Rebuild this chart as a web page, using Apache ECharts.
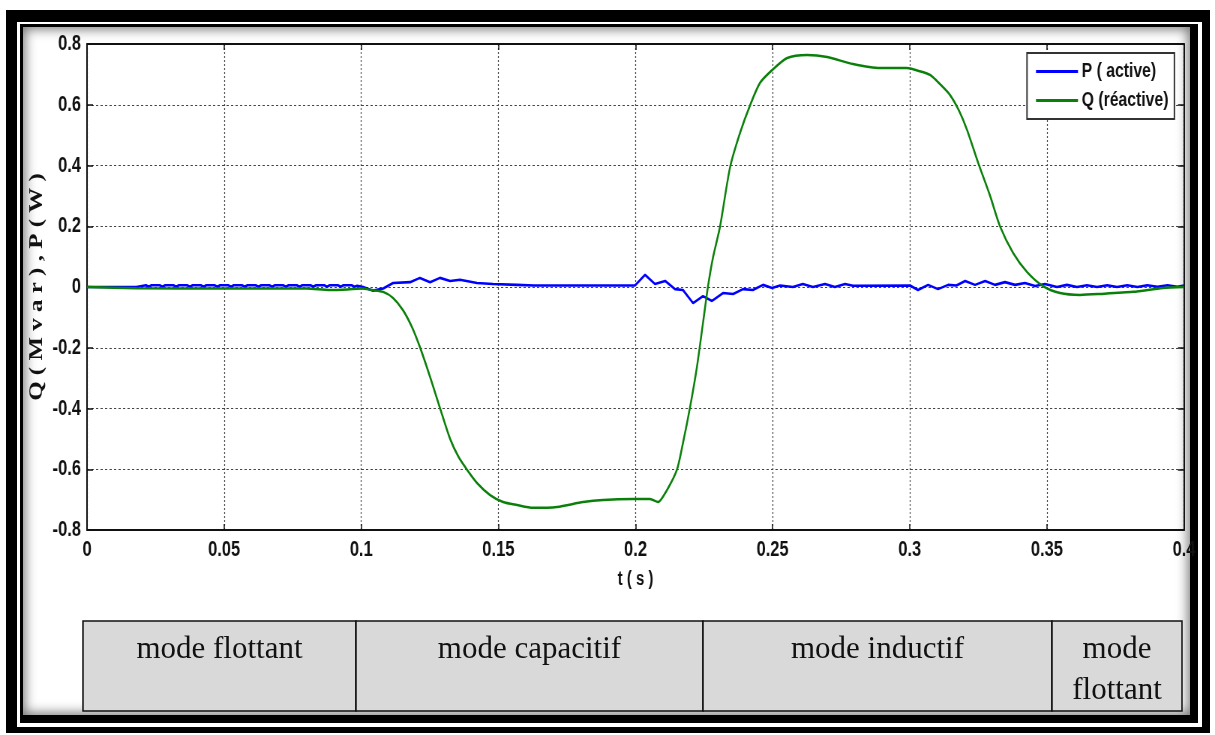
<!DOCTYPE html>
<html>
<head>
<meta charset="utf-8">
<script src="https://cdn.jsdelivr.net/npm/echarts@6/dist/echarts.min.js"></script>
<style>
  html, body { margin: 0; padding: 0; background: #fff; overflow: hidden; }
  .box { position: absolute; }
  #table { position: absolute; left: 0; top: 0; width: 1215px; height: 735px; }
  /* the plot is laid out on a wider canvas and squeezed horizontally,
     which gives its lettering a tall, condensed look */
  #plot { position: absolute; left: 0; top: 0; width: 1620px; height: 735px;
          transform: scaleX(0.75); transform-origin: 0 0; }
</style>
</head>
<body>
<!-- double black frame with a shaded inner edge -->
<div class="box" style="left:6px;top:10px;width:1204px;height:723px;background:#000"></div>
<div class="box" style="left:17px;top:22px;width:1185px;height:705px;background:#fff"></div>
<div class="box" style="left:20px;top:24px;width:1178px;height:699px;background:#000"></div>
<div class="box" style="left:23px;top:27px;width:1167px;height:688px;background:#fff;box-shadow:inset 0 0 12px 2px rgba(0,0,0,0.55)"></div>
<div id="table"></div>
<div id="plot"></div>
<script>
// Time axis ticks and value axis ticks
const xTicks = [0, 0.05, 0.1, 0.15, 0.2, 0.25, 0.3, 0.35, 0.4];
const yTicks = [-0.8, -0.6, -0.4, -0.2, 0, 0.2, 0.4, 0.6, 0.8];

// Reactive power Q (Mvar) against time (s)
const qTime = [0, 0.018, 0.05, 0.08, 0.0886, 0.095, 0.1, 0.104, 0.108, 0.1116, 0.1152, 0.1185, 0.1214, 0.1251,
  0.1287, 0.1324, 0.1355, 0.1386, 0.1422, 0.147, 0.1517, 0.1568, 0.1626, 0.1714, 0.1809, 0.1882, 0.199, 0.2053, 0.2082,
  0.2115, 0.2151, 0.2173, 0.2199, 0.2224, 0.2246, 0.2264, 0.2283, 0.2308, 0.2345, 0.2381, 0.2418, 0.2454, 0.2498,
  0.2553, 0.2626, 0.2699, 0.2793, 0.2892, 0.299, 0.303, 0.3074, 0.311, 0.3147, 0.318, 0.3209, 0.3249, 0.3293,
  0.3329, 0.3377, 0.3428, 0.3486, 0.3548, 0.3621, 0.3694, 0.3814, 0.3924, 0.4];
const qValue = [0, -0.004, -0.005, -0.005, -0.01, -0.008, -0.005, -0.01, -0.016, -0.036, -0.076, -0.132, -0.198, -0.296,
  -0.398, -0.5, -0.56, -0.602, -0.645, -0.685, -0.708, -0.718, -0.727, -0.724, -0.708, -0.701, -0.698, -0.698, -0.708,
  -0.668, -0.602, -0.514, -0.395, -0.263, -0.119, 0, 0.099, 0.198, 0.395, 0.507, 0.599, 0.672, 0.714,
  0.754, 0.764, 0.757, 0.734, 0.721, 0.721, 0.712, 0.698, 0.668, 0.632, 0.58, 0.517, 0.41, 0.3,
  0.2, 0.112, 0.049, 0.003, -0.02, -0.026, -0.023, -0.016, -0.003, 0];

// Active power P (W) against time (s)
const pTime = [0, 0.018, 0.0185, 0.0215, 0.0225, 0.0235, 0.0265, 0.0275, 0.0285, 0.0315, 0.0325, 0.0335, 0.0365,
  0.0375, 0.0385, 0.0415, 0.0425, 0.0435, 0.0465, 0.0475, 0.0485, 0.0515, 0.0525, 0.0535, 0.0565, 0.0575, 0.0585,
  0.0615, 0.0625, 0.0635, 0.0665, 0.0675, 0.0685, 0.0715, 0.0725, 0.0735, 0.0765, 0.0775, 0.0785, 0.0815, 0.0825,
  0.0835, 0.0865, 0.0875, 0.0885, 0.0915, 0.0925, 0.0935, 0.0965, 0.0975, 0.0985,
  0.1007, 0.1043, 0.108, 0.1116, 0.1178, 0.1214, 0.1251, 0.1287, 0.1324, 0.136, 0.1422, 0.148, 0.1568, 0.163, 0.17,
  0.1998, 0.2035, 0.2071, 0.2108, 0.2144, 0.2173, 0.221, 0.2246, 0.2279, 0.2319, 0.2356, 0.2392, 0.2428, 0.2465,
  0.2498, 0.2527, 0.2574, 0.261, 0.2647, 0.2691, 0.2727, 0.2764, 0.2793, 0.3001, 0.303, 0.3067, 0.3103, 0.314,
  0.317, 0.3202, 0.3238, 0.3275, 0.3311, 0.3347, 0.3384, 0.342, 0.3457, 0.3493, 0.3537, 0.3573, 0.361, 0.3646,
  0.3683, 0.372, 0.3756, 0.3793, 0.383, 0.3866, 0.3903, 0.394, 0.3976, 0.4];
const pValue = [0, 0, 0.006, 0.006, 0.001, 0.006, 0.006, 0.001, 0.006, 0.006, 0.001, 0.006, 0.006,
  0.001, 0.006, 0.006, 0.001, 0.006, 0.006, 0.001, 0.006, 0.006, 0.001, 0.006, 0.006, 0.001, 0.006,
  0.006, 0.001, 0.006, 0.006, 0.001, 0.006, 0.006, 0.001, 0.006, 0.006, 0.001, 0.006, 0.006, 0.001,
  0.006, 0.006, 0.001, 0.006, 0.006, 0.001, 0.006, 0.006, 0.001, 0.004,
  0, -0.012, -0.005, 0.013, 0.016, 0.03, 0.016, 0.03, 0.02, 0.024, 0.013, 0.01, 0.007, 0.005, 0.005,
  0.005, 0.04, 0.01, 0.02, -0.007, -0.01, -0.053, -0.03, -0.046, -0.02, -0.023, -0.007, -0.01, 0.007,
  -0.003, 0.005, 0, 0.01, 0, 0.01, 0, 0.01, 0.004, 0.005, -0.01, 0.007, -0.007, 0.007,
  0.005, 0.02, 0.007, 0.02, 0.007, 0.016, 0.007, 0.013, 0.003, 0.01, 0, 0.007, 0, 0.006,
  0, 0.006, 0, 0.006, 0, 0.006, 0.001, 0.006, 0.001, 0.005];

// Operating modes shown in the table under the plot
const modeLabels = ['mode flottant', 'mode capacitif', 'mode inductif', 'mode\nflottant'];
const seriesNames = ['P ( active)', 'Q (réactive)'];
const yAxisTitle = 'Q ( M v a r ) , P ( W )';
const xAxisTitle = 't ( s )';

const SQ = 0.75;                 // horizontal squeeze of the plot layer
const sx = v => v / SQ;          // page x -> plot-layer x
const sansBold = "'Liberation Sans', Arial, Helvetica, sans-serif";
const serif = "'Liberation Serif', 'Times New Roman', serif";

/* ---------- mode table ---------- */
const tableChart = echarts.init(document.getElementById('table'), null, { renderer: 'canvas' });
const tableBox = { top: 621, height: 90, cols: [83, 356, 703, 1052, 1182] };
const tableGraphics = [];
for (let i = 0; i < modeLabels.length; i++) {
  const x0 = tableBox.cols[i], x1 = tableBox.cols[i + 1];
  tableGraphics.push({
    type: 'rect', shape: { x: x0, y: tableBox.top, width: x1 - x0, height: tableBox.height },
    style: { fill: '#d9d9d9', stroke: '#111', lineWidth: 1.5 }
  });
  tableGraphics.push({
    type: 'text', x: (x0 + x1) / 2, y: tableBox.top + 8,
    style: { text: modeLabels[i], font: '31px ' + serif, fill: '#111',
      align: 'center', verticalAlign: 'top', lineHeight: 41 }
  });
}
tableChart.setOption({ animation: false, backgroundColor: 'transparent', graphic: tableGraphics });

/* ---------- P / Q plot ---------- */
const chart = echarts.init(document.getElementById('plot'), null, { renderer: 'canvas' });

const gridBox = { left: sx(87), top: 44, width: sx(1097), height: 486 };

const sideAxis = {
  type: 'value', min: -0.8, max: 0.8, interval: 0.2,
  axisLine: { show: true, onZero: false, lineStyle: { color: '#111', width: 2 } },
  axisTick: { show: true, inside: true, length: 8, lineStyle: { color: '#111', width: 1.5 } },
  axisLabel: { show: false }, splitLine: { show: false }
};
const sideXAxis = Object.assign({}, sideAxis, { min: 0, max: 0.4, interval: 0.05,
  axisTick: { show: true, inside: true, length: 6, lineStyle: { color: '#111', width: 1.5 } } });

chart.setOption({
  animation: false,
  backgroundColor: 'transparent',
  grid: gridBox,
  legend: {
    data: seriesNames,
    orient: 'vertical', left: sx(1027), top: 53,
    backgroundColor: '#fff', borderColor: '#333', borderWidth: 2, borderRadius: 0,
    padding: [8, sx(6), 8, sx(9)], itemGap: 8, itemWidth: sx(42), itemHeight: 3, icon: 'rect',
    textStyle: { fontFamily: sansBold, fontWeight: 'bold', fontSize: 21, color: '#111' }
  },
  xAxis: [{
    type: 'value', min: xTicks[0], max: xTicks[xTicks.length - 1], interval: 0.05, position: 'bottom',
    name: xAxisTitle, nameLocation: 'middle', nameGap: 39,
    nameTextStyle: { fontFamily: sansBold, fontWeight: 'bold', fontSize: 20, color: '#111' },
    axisLine: { show: true, onZero: false, lineStyle: { color: '#111', width: 2 } },
    axisTick: { show: true, inside: true, length: 6, lineStyle: { color: '#111', width: 1.5 } },
    axisLabel: { margin: 9, fontFamily: sansBold, fontWeight: 'bold', fontSize: 22, color: '#111' },
    splitLine: { show: true, lineStyle: { color: '#444', width: 1.2, type: [2, 2] } }
  }, Object.assign({ position: 'top' }, sideXAxis)],
  yAxis: [{
    type: 'value', min: yTicks[0], max: yTicks[yTicks.length - 1], interval: 0.2, position: 'left',
    axisLine: { show: true, onZero: false, lineStyle: { color: '#111', width: 2 } },
    axisTick: { show: true, inside: true, length: 8, lineStyle: { color: '#111', width: 1.5 } },
    axisLabel: { margin: sx(6), fontFamily: sansBold, fontWeight: 'bold', fontSize: 22, color: '#111' },
    splitLine: { show: true, lineStyle: { color: '#444', width: 1, type: [3, 3] } }
  }, Object.assign({ position: 'right' }, sideAxis)],
  series: [{
    name: seriesNames[0], type: 'line', showSymbol: false, smooth: false,
    data: pTime.map((t, i) => [t, pValue[i]]),
    lineStyle: { color: '#0000ff', width: 2.6 }, itemStyle: { color: '#0000ff' }
  }, {
    name: seriesNames[1], type: 'line', showSymbol: false, smooth: 0.25,
    data: qTime.map((t, i) => [t, qValue[i]]),
    lineStyle: { color: '#0a800a', width: 2.5 }, itemStyle: { color: '#0a800a' }
  }],
  graphic: [{
    // y-axis title, reading upward
    type: 'text', x: sx(37), y: 287, rotation: Math.PI / 2,
    style: { text: yAxisTitle, font: 'bold 25px ' + serif, fill: '#111',
      align: 'center', verticalAlign: 'middle' }
  }]
});
</script>
</body>
</html>
